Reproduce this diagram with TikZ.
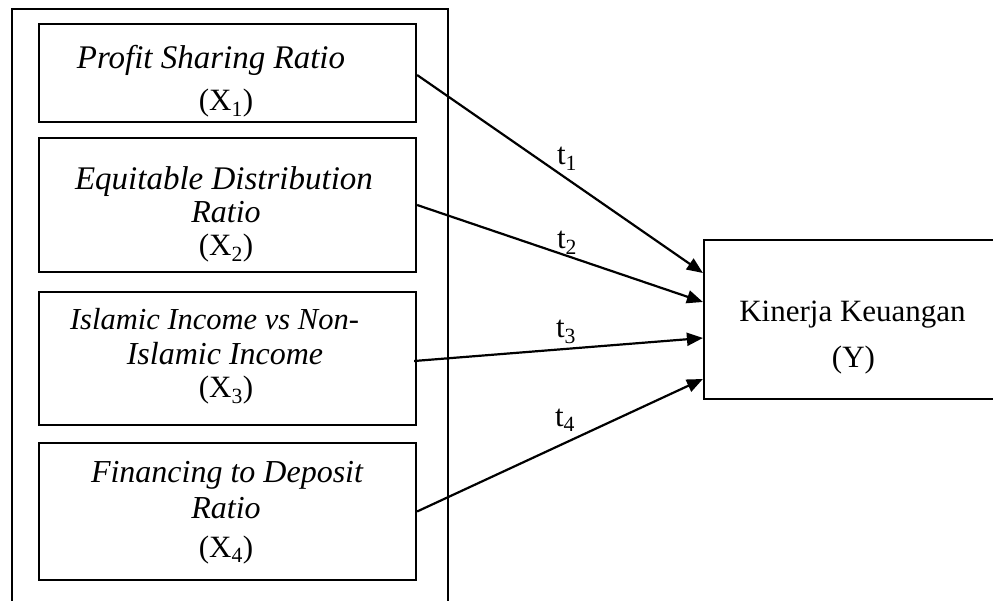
\documentclass[tikz,border=0pt]{standalone}
\usepackage{fontspec}
\setmainfont{Liberation Serif}
\usetikzlibrary{arrows.meta}
\begin{document}
\begin{tikzpicture}[x=1pt,y=-1pt,
  box/.style={draw, line width=2.2pt, inner sep=0pt, minimum width=377pt},
  lbl/.style={anchor=base, inner sep=0pt, font=\fontsize{31}{31}\selectfont},
  ital/.style={lbl, font=\fontsize{32}{32}\selectfont\itshape},
  conn/.style={line width=2.2pt, -{Triangle[length=16pt,width=13pt]}}
]
\clip (0,0) rectangle (993,601);
\fill[white] (0,0) rectangle (993,601);
% outer frame (open at bottom)
\draw[line width=2.2pt] (12,620) -- (12,9) -- (448,9) -- (448,620);
% independent variable boxes
\node[box, minimum height=98pt]  (x1) at (227.5,73) {};
\node[box, minimum height=134pt] (x2) at (227.5,205) {};
\node[box, minimum height=133pt] (x3) at (227.5,358.5) {};
\node[box, minimum height=137pt] (x4) at (227.5,511.5) {};
% dependent variable box
\node[box, minimum width=296pt, minimum height=159pt] (y) at (852,319.5) {};
% texts
\node[ital, font=\fontsize{33}{33}\selectfont\itshape] (x1a) at (211,69) {Profit Sharing Ratio};
\node[lbl] (x1b) at (226,111) {(X\textsubscript{1})};
\node[ital, font=\fontsize{33}{33}\selectfont\itshape] (x2a) at (224,190) {Equitable Distribution};
\node[ital] (x2b) at (226,223) {Ratio};
\node[lbl] (x2c) at (226,256) {(X\textsubscript{2})};
\node[ital, font=\fontsize{30.5}{30.5}\selectfont\itshape] (x3a) at (214.5,330) {Islamic Income vs Non-};
\node[ital] (x3b) at (225,365) {Islamic Income};
\node[lbl] (x3c) at (226,398) {(X\textsubscript{3})};
\node[ital] (x4a) at (227,482) {Financing to Deposit};
\node[ital] (x4b) at (226,518) {Ratio};
\node[lbl] (x4c) at (226,557) {(X\textsubscript{4})};
\node[lbl] (ya) at (852.5,322) {Kinerja Keuangan};
\node[lbl] (yb) at (853.5,367) {(Y)};
% connectors
\draw[conn] ([yshift=-2pt]x1.east) -- ([yshift=46.5pt]y.west);
\draw[conn] (x2.east) -- ([yshift=17.5pt]y.west);
\draw[conn] ([xshift=-3pt,yshift=-2.5pt]x3.east) -- ([yshift=-18.5pt]y.west);
\draw[conn] (x4.east) -- ([yshift=-59.5pt]y.west);
% connector labels
\node[lbl] (t1) at (567,165) {t\textsubscript{1}};
\node[lbl] (t2) at (567,249) {t\textsubscript{2}};
\node[lbl] (t3) at (566,338) {t\textsubscript{3}};
\node[lbl] (t4) at (565,426) {t\textsubscript{4}};
\end{tikzpicture}
\end{document}
